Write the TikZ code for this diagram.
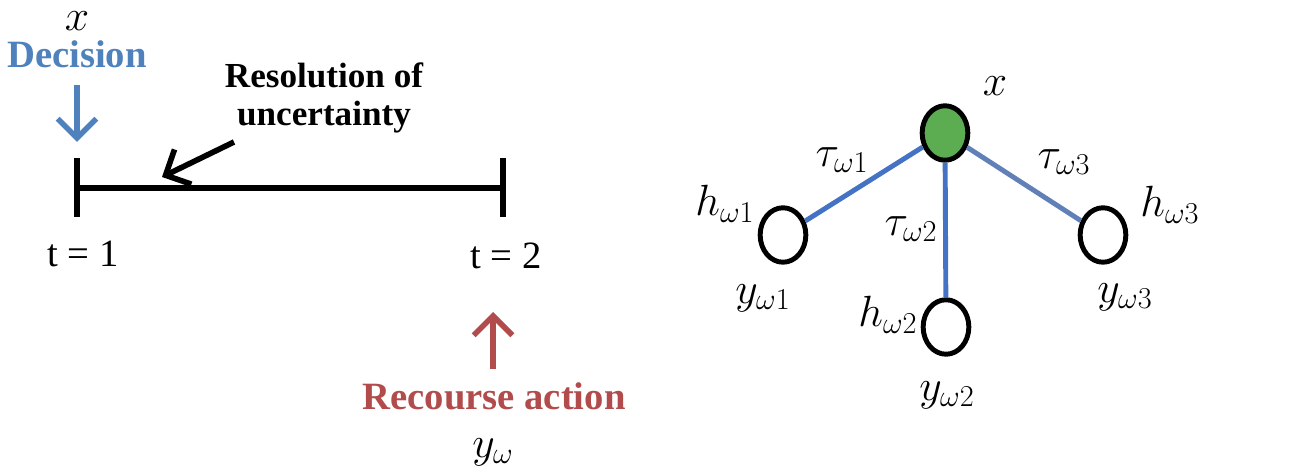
\documentclass[tikz,border=0pt]{standalone}
\usepackage{fontspec}
\usetikzlibrary{arrows.meta,shapes.geometric}
\newfontfamily\tms{Liberation Serif}
\definecolor{decblue}{RGB}{79,129,189}
\definecolor{recred}{RGB}{178,76,76}
\definecolor{nodegreen}{RGB}{92,172,82}
\definecolor{edgeblue}{RGB}{68,114,196}
\definecolor{edgeblue2}{RGB}{98,128,184}
\tikzset{
  txt/.style={font=\tms\fontsize{22}{26}\selectfont, inner sep=0pt},
  bold/.style={font=\tms\bfseries\fontsize{22}{26}\selectfont, inner sep=0pt},
  boldsm/.style={font=\tms\bfseries\fontsize{20}{24}\selectfont, inner sep=0pt, align=center},
  mth/.style={font=\fontsize{24}{28}\selectfont, inner sep=0pt},
  arr/.style={line width=3.2pt, -{Straight Barb[length=11pt,width=22pt,line width=3.2pt]}},
  tick/.style={line width=3.4pt},
  scen/.style={ellipse, draw=black, line width=2.8pt, minimum width=26pt, minimum height=31pt, inner sep=0pt, fill=white},
  edge/.style={line width=2.8pt, draw=edgeblue}
}
\begin{document}
\begin{tikzpicture}[x=0.02cm,y=-0.02cm]
\useasboundingbox (0,0) rectangle (1299,476);
% left: timeline
\node[mth] (xl) at (77,21) {$x$};
\node[bold, text=decblue] (dec) at (77,54) {Decision};
\coordinate (da) at (77,85);
\coordinate (db) at (77,142);
\draw[arr, draw=decblue] (da) -- (db);
\coordinate (t1) at (77,188);
\coordinate (t2) at (503,188);
\coordinate (t1u) at (77,158);
\coordinate (t1d) at (77,217);
\coordinate (t2u) at (503,158);
\coordinate (t2d) at (503,217);
\draw[tick] (t1) -- (t2);
\draw[tick] (t1u) -- (t1d);
\draw[tick] (t2u) -- (t2d);
\node[txt] (l1) at (83,254) {t = 1};
\node[txt] (l2) at (506,256) {t = 2};
\node[boldsm] (res) at (324,98) {Resolution of\\[-2pt]uncertainty};
\coordinate (ra) at (234,142);
\coordinate (rb) at (162,177);
\draw[arr, draw=black] (ra) -- (rb);
\coordinate (ka) at (493,369);
\coordinate (kb) at (493,312);
\draw[arr, draw=recred] (ka) -- (kb);
\node[bold, text=recred] (rec) at (494,396) {Recourse action};
\node[mth] (yw) at (493,452) {$y_\omega$};
% right: scenario tree
\node[scen, fill=nodegreen] (c) at (945,133) {};
\node[scen] (n1) at (783,235) {};
\node[scen] (n2) at (946,327) {};
\node[scen] (n3) at (1103,235) {};
\draw[edge] (c) -- (n1);
\draw[edge] (c) -- (n2);
\draw[edge, draw=edgeblue2] (c) -- (n3);
\node[mth] (xr) at (995,86) {$x$};
\node[mth] (tau1) at (842,160) {$\tau_{\omega1}$};
\node[mth] (tau2) at (911,229) {$\tau_{\omega2}$};
\node[mth] (tau3) at (1064,162) {$\tau_{\omega3}$};
\node[mth] (h1) at (725,204) {$h_{\omega1}$};
\node[mth] (h2) at (888,315) {$h_{\omega2}$};
\node[mth] (h3) at (1170,205) {$h_{\omega3}$};
\node[mth] (y1) at (763,298) {$y_{\omega1}$};
\node[mth] (y2) at (947,395) {$y_{\omega2}$};
\node[mth] (y3) at (1125,297) {$y_{\omega3}$};
\end{tikzpicture}
\end{document}
